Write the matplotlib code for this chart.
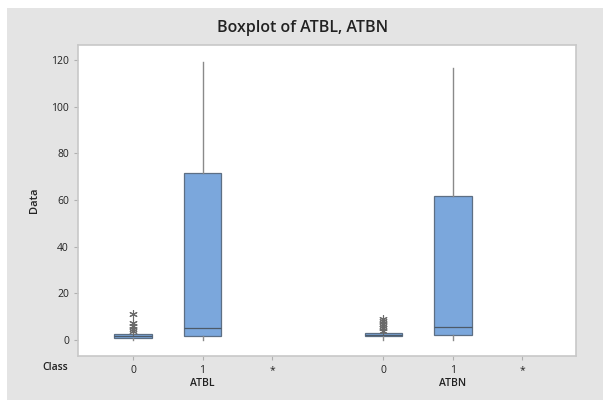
import numpy as np
import matplotlib as mpl
mpl.use("Agg")
import matplotlib.pyplot as plt
from matplotlib.patches import Rectangle

plt.rcParams['font.family'] = ['Open Sans', 'DejaVu Sans']

# values
groups = ["ATBL", "ATBN"]
classes = ["0", "1", "*"]
whislo = [0, 0, 0, 0]
q1 = [1.0, 1.8, 1.5, 2.1]
med = [1.8, 5.0, 2.0, 5.4]
q3 = [2.4, 71.7, 3.0, 61.8]
whishi = [3.0, 119, 3.5, 116.5]
fliers = [[4.0, 4.6, 6.0, 7.4, 11.1],
          [],
          [4.0, 5.0, 6.0, 7.0, 8.0, 9.0],
          []]
yticks = [0, 20, 40, 60, 80, 100, 120]

# box positions: groups separated by a gap
pos_box = [0, 1, 3.6, 4.6]
pos_ticks = [0, 1, 2, 3.6, 4.6, 5.6]
tick_labels = classes * 2

stats = []
for i in range(len(q1)):
    stats.append(dict(whislo=whislo[i], q1=q1[i], med=med[i], q3=q3[i],
                      whishi=whishi[i], fliers=fliers[i]))

fig = plt.figure(figsize=(6.03, 4.0), dpi=100)
fig.patch.set_facecolor("white")
fig.patches.append(Rectangle((7/603, 0), 1, 1 - 8/400, transform=fig.transFigure,
                             facecolor="#e4e4e4", edgecolor="none", zorder=-10))
ax = fig.add_axes([78/603, 44/400, (576-78)/603, (356-45)/400])
ax.set_facecolor("white")

ax.bxp(stats, positions=pos_box, widths=0.54, patch_artist=True, showcaps=False,
       boxprops=dict(facecolor="#7ba7dc", edgecolor="#5d6f84", linewidth=0.9),
       medianprops=dict(color="#4d5a68", linewidth=0.9),
       whiskerprops=dict(color="#8a8a8a", linewidth=1.0),
       flierprops=dict(marker=(6, 2, 0), markersize=6, markeredgecolor="#6a6a6a",
                       markerfacecolor="none", markeredgewidth=0.8))

ax.set_xlim(-0.79, 6.37)
ax.set_ylim(-6.86, 126.4)
ax.set_yticks(yticks)
ax.set_xticks(pos_ticks)
ax.set_xticklabels(tick_labels)
ax.tick_params(colors="#b0b0b0", labelcolor="#222222", labelsize=7.5, length=3)
for s in ax.spines.values():
    s.set_color("#c8c8c8")
    s.set_linewidth(1.2)

fig.text(303/603, 1 - 28/400, "Boxplot of ATBL, ATBN", ha="center", va="center",
         fontsize=11.5, fontweight="semibold", color="#222222")
fig.text(35/603, 1 - 200/400, "Data", rotation=90, ha="center", va="center",
         fontsize=8, fontweight="semibold", color="#222222")
fig.text(55/603, 1 - 367/400, "Class", ha="center", va="center",
         fontsize=7.5, fontweight="semibold", color="#222222")
for g, p in zip(groups, [1, 4.6]):
    ax.annotate(g, xy=(p, 0), xycoords=("data", "axes fraction"),
                xytext=(0, -19.5), textcoords="offset points", ha="center",
                va="center", fontsize=7.5, fontweight="semibold", color="#222222")

fig.savefig("out.png", dpi=100)
